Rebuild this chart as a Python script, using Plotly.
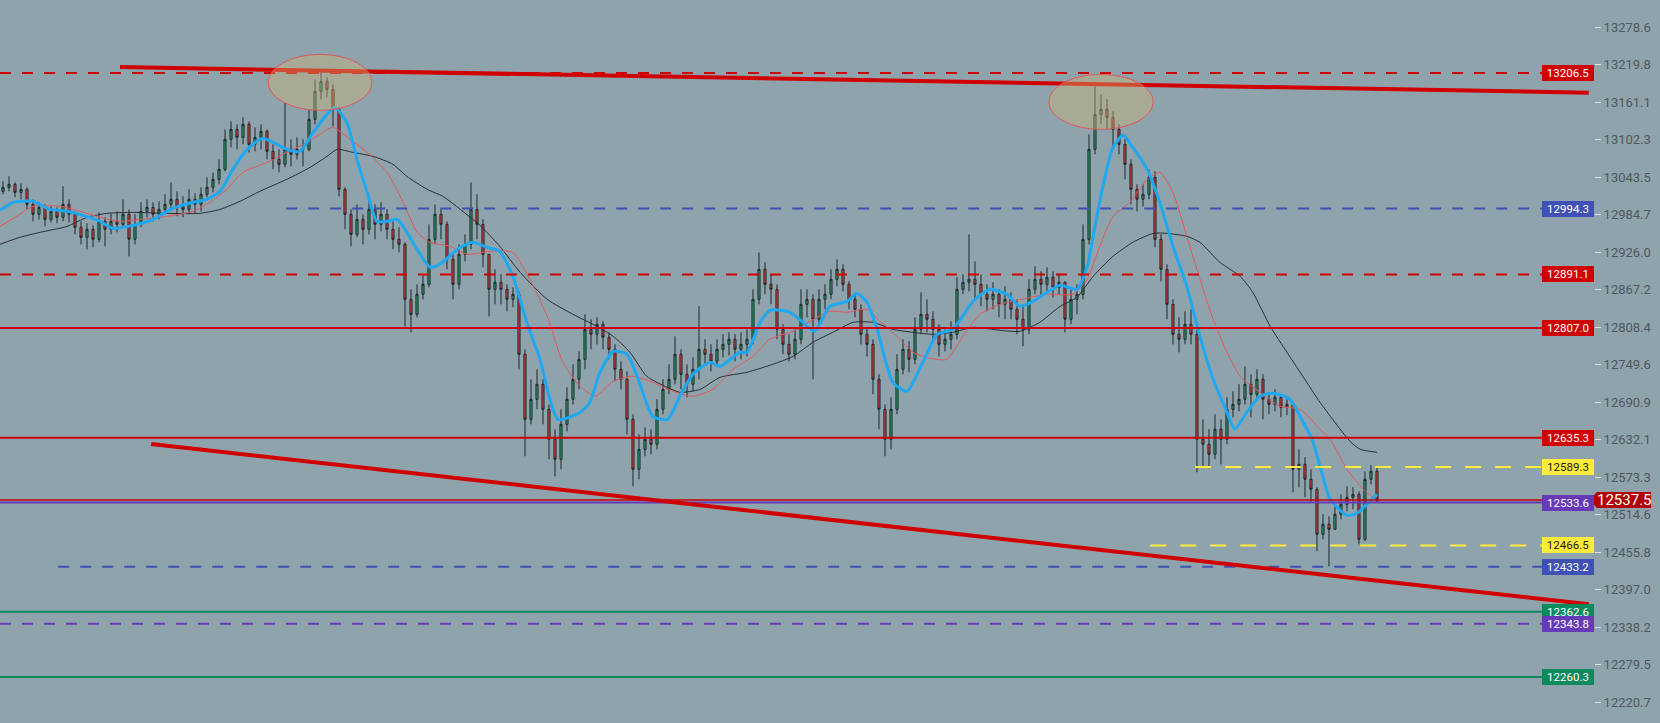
import plotly.graph_objects as go

# ---- candles (one bar per slot, open = previous close) ----
first_open = 13021.2
close = [
    13027.5, 13032.2, 13019.6, 13024.3, 13000.8, 12985.2, 12996.1, 12977.3, 12989.9, 12980.5,
    13000.8, 12985.2, 12964.8, 12949.1, 12961.7, 12946.0, 12974.2, 12961.7, 12974.2, 12969.5,
    12985.2, 12946.0, 12969.5, 12989.9, 12996.1, 12985.2, 12993.0, 13000.8, 13008.7, 12997.7,
    12993.0, 13008.7, 13000.8, 13016.5, 13027.5, 13040.0, 13055.7, 13102.7, 13118.3, 13105.8,
    13126.2, 13094.8, 13105.8, 13115.2, 13083.9, 13071.3, 13063.5, 13087.0, 13079.2, 13087.0,
    13087.0, 13134.0, 13177.9, 13193.6, 13181.0, 13149.7, 13024.3, 12985.2, 12953.8, 12977.3,
    12961.7, 12993.0, 12969.5, 12985.2, 12961.7, 12946.0, 12938.2, 12852.0, 12828.5, 12859.9,
    12875.5, 12946.0, 12985.2, 12969.5, 12914.7, 12875.5, 12922.5, 12938.2, 12993.0, 12969.5,
    12922.5, 12867.7, 12878.7, 12867.7, 12852.0, 12859.9, 12765.9, 12664.0, 12695.4, 12718.9,
    12679.7, 12632.7, 12601.4, 12656.2, 12695.4, 12726.7, 12758.0, 12805.0, 12797.2, 12812.9,
    12792.5, 12773.7, 12742.4, 12726.7, 12664.0, 12585.7, 12617.0, 12632.7, 12624.9, 12679.7,
    12711.0, 12726.7, 12765.9, 12734.5, 12718.9, 12742.4, 12773.7, 12765.9, 12754.9, 12773.7,
    12781.5, 12789.4, 12773.7, 12781.5, 12789.4, 12852.0, 12899.0, 12875.5, 12867.7, 12805.0,
    12781.5, 12765.9, 12789.4, 12844.2, 12852.0, 12820.7, 12852.0, 12859.9, 12883.4, 12899.0,
    12875.5, 12852.0, 12836.4, 12797.2, 12781.5, 12726.7, 12679.7, 12632.7, 12679.7, 12742.4,
    12773.7, 12758.0, 12805.0, 12828.5, 12820.7, 12805.0, 12781.5, 12789.4, 12797.2, 12867.7,
    12878.7, 12883.4, 12875.5, 12859.9, 12852.0, 12859.9, 12844.2, 12852.0, 12836.4, 12820.7,
    12805.0, 12867.7, 12883.4, 12875.5, 12886.5, 12870.8, 12878.7, 12820.7, 12852.0, 12859.9,
    12946.0, 13087.0, 13141.8, 13149.7, 13137.1, 13118.3, 13094.8, 13063.5, 13024.3, 13008.7,
    13016.5, 13043.1, 12946.0, 12899.0, 12844.2, 12797.2, 12789.4, 12812.9, 12797.2, 12632.7,
    12624.9, 12609.2, 12648.4, 12632.7, 12679.7, 12687.5, 12695.4, 12718.9, 12703.2, 12726.7,
    12695.4, 12687.5, 12698.5, 12682.8, 12687.5, 12585.7, 12593.5, 12570.0, 12554.4, 12483.9,
    12499.5, 12491.7, 12515.2, 12530.9, 12541.8, 12546.5, 12476.0, 12570.0, 12582.6, 12537.5,
]
high = [
    13036.9, 13044.7, 13035.3, 13033.8, 13027.5, 13008.7, 13004.0, 13000.8, 12997.7, 12996.1,
    13029.1, 13008.7, 12989.9, 12974.2, 12971.1, 12967.9, 12988.3, 12980.5, 12986.7, 12989.9,
    13008.7, 12993.0, 12985.2, 13004.0, 13008.7, 13004.0, 13005.6, 13016.5, 13035.3, 13021.2,
    13013.4, 13024.3, 13018.1, 13027.5, 13043.1, 13050.9, 13071.3, 13118.3, 13130.9, 13126.2,
    13137.1, 13130.9, 13121.5, 13126.2, 13118.3, 13094.8, 13087.0, 13160.6, 13102.7, 13105.8,
    13102.7, 13149.7, 13196.7, 13207.6, 13199.8, 13188.8, 13152.8, 13027.5, 12993.0, 13000.8,
    12985.2, 13013.4, 13000.8, 13004.0, 12993.0, 12974.2, 12964.8, 12941.3, 12867.7, 12875.5,
    12889.6, 12969.5, 13000.8, 12993.0, 12974.2, 12922.5, 12938.2, 12953.8, 13035.3, 13016.5,
    12977.3, 12922.5, 12899.0, 12891.2, 12875.5, 12870.8, 12864.5, 12773.7, 12726.7, 12742.4,
    12726.7, 12687.5, 12648.4, 12679.7, 12714.2, 12750.2, 12770.6, 12828.5, 12820.7, 12823.8,
    12817.5, 12800.3, 12781.5, 12754.9, 12739.2, 12671.9, 12640.5, 12651.5, 12648.4, 12695.4,
    12726.7, 12750.2, 12794.1, 12773.7, 12750.2, 12761.2, 12841.1, 12789.4, 12781.5, 12789.4,
    12797.2, 12800.3, 12797.2, 12800.3, 12805.0, 12867.7, 12925.6, 12910.0, 12891.2, 12875.5,
    12812.9, 12797.2, 12805.0, 12867.7, 12867.7, 12859.9, 12867.7, 12875.5, 12899.0, 12914.7,
    12906.9, 12880.2, 12859.9, 12844.2, 12808.2, 12789.4, 12734.5, 12687.5, 12698.5, 12765.9,
    12789.4, 12786.2, 12823.8, 12863.0, 12852.0, 12833.2, 12812.9, 12805.0, 12817.5, 12886.5,
    12891.2, 12953.8, 12911.5, 12891.2, 12875.5, 12878.7, 12867.7, 12872.4, 12863.0, 12852.0,
    12844.2, 12883.4, 12903.7, 12895.9, 12902.2, 12895.9, 12892.8, 12880.2, 12867.7, 12875.5,
    12969.5, 13110.5, 13185.7, 13173.2, 13165.3, 13146.5, 13126.2, 13102.7, 13071.3, 13032.2,
    13032.2, 13055.7, 13052.5, 12953.8, 12906.9, 12852.0, 12823.8, 12833.2, 12836.4, 12805.0,
    12664.0, 12648.4, 12671.9, 12664.0, 12698.5, 12707.9, 12718.9, 12747.0, 12734.5, 12742.4,
    12734.5, 12706.3, 12711.0, 12703.2, 12700.1, 12692.2, 12617.0, 12604.5, 12585.7, 12557.5,
    12515.2, 12512.1, 12530.9, 12546.5, 12559.1, 12557.5, 12551.2, 12582.6, 12592.0, 12588.8,
]
low = [
    13016.5, 13021.2, 13011.8, 13008.7, 12993.0, 12974.2, 12977.3, 12966.4, 12972.6, 12971.1,
    12974.2, 12972.6, 12953.8, 12938.2, 12930.4, 12933.5, 12941.3, 12935.1, 12953.8, 12957.0,
    12964.8, 12919.4, 12938.2, 12964.8, 12980.5, 12974.2, 12977.3, 12985.2, 12993.0, 12982.0,
    12980.5, 12985.2, 12986.7, 12989.9, 13011.8, 13019.6, 13032.2, 13052.5, 13090.1, 13087.0,
    13094.8, 13082.3, 13083.9, 13087.0, 13071.3, 13055.7, 13051.0, 13058.8, 13060.4, 13071.3,
    13060.4, 13083.9, 13126.2, 13165.3, 13168.5, 13123.0, 13013.4, 12961.7, 12935.1, 12949.1,
    12938.2, 12953.8, 12946.0, 12958.5, 12946.0, 12930.4, 12925.6, 12809.7, 12800.3, 12823.8,
    12852.0, 12870.8, 12938.2, 12946.0, 12899.0, 12852.0, 12867.7, 12911.5, 12930.4, 12946.0,
    12902.2, 12825.4, 12844.2, 12844.2, 12833.2, 12839.5, 12742.4, 12606.1, 12656.2, 12679.7,
    12656.2, 12601.4, 12574.7, 12585.7, 12645.2, 12687.5, 12711.0, 12742.4, 12773.7, 12781.5,
    12773.7, 12758.0, 12723.6, 12711.0, 12640.5, 12559.1, 12570.0, 12606.1, 12609.2, 12617.0,
    12671.9, 12703.2, 12718.9, 12711.0, 12698.5, 12707.9, 12726.7, 12750.2, 12739.2, 12750.2,
    12761.2, 12764.3, 12754.9, 12758.0, 12762.7, 12781.5, 12844.2, 12859.9, 12844.2, 12789.4,
    12765.9, 12754.9, 12758.0, 12781.5, 12823.8, 12726.7, 12805.0, 12836.4, 12852.0, 12872.4,
    12864.5, 12836.4, 12823.8, 12781.5, 12762.7, 12703.2, 12648.4, 12606.1, 12617.0, 12671.9,
    12734.5, 12737.7, 12750.2, 12797.2, 12800.3, 12789.4, 12762.7, 12770.6, 12773.7, 12789.4,
    12859.9, 12864.5, 12852.0, 12841.1, 12833.2, 12836.4, 12823.8, 12820.7, 12820.7, 12797.2,
    12778.4, 12797.2, 12859.9, 12856.7, 12864.5, 12855.1, 12859.9, 12800.3, 12812.9, 12828.5,
    12852.0, 12938.2, 13079.2, 13126.2, 13118.3, 13087.0, 13079.2, 13040.0, 13000.8, 12989.9,
    12997.7, 13008.7, 12933.5, 12880.2, 12820.7, 12781.5, 12769.0, 12781.5, 12781.5, 12581.0,
    12588.8, 12590.4, 12601.4, 12593.5, 12624.9, 12667.2, 12676.6, 12687.5, 12667.2, 12695.4,
    12664.0, 12671.9, 12676.6, 12667.2, 12670.3, 12549.7, 12557.5, 12541.8, 12534.0, 12457.2,
    12476.0, 12433.8, 12491.7, 12507.4, 12519.9, 12523.0, 12468.2, 12472.9, 12562.2, 12534.0,
]

# ---- moving averages (bar index, price) ----
ma_fast_x = [-0.5, 1.7, 5.0, 6.7, 7.8, 10.7, 12.8, 16.2, 18.3, 21.7, 25.0, 28.3, 31.7, 34.0,
             36.2, 38.3, 40.7, 43.2, 45.7, 47.3, 49.5, 51.7, 54.0, 55.3, 57.3, 59.0, 60.7, 62.3,
             64.0, 65.7, 66.7, 69.0, 71.2, 72.8, 76.2, 78.3, 80.7, 82.8, 85.0, 87.3, 89.5, 92.5,
             96.2, 97.8, 99.5, 101.7, 104.0, 105.7, 108.3, 110.8, 112.8, 115.0, 117.8, 119.5,
             122.8, 124.0, 126.2, 127.8, 131.2, 133.3, 135.3, 137.8, 140.7, 142.3, 144.0, 145.7,
             148.3, 150.7, 153.3, 155.7, 158.3, 161.7, 164.5, 167.3, 169.5, 171.7, 174.0, 176.2,
             179.0, 180.7, 182.0, 183.3, 185.0, 186.7, 188.3, 190.7, 192.8, 195.0, 197.3, 199.5,
             201.7, 204.0, 205.3, 207.3, 209.5, 211.7, 214.5, 216.7, 218.2, 219.5, 221.2, 224.0,
             225.7, 227.3, 229.0]
ma_fast_y = [12991.4, 13004.0, 13005.6, 12997.7, 12993.0, 12989.9, 12985.2, 12974.2, 12963.2,
             12967.9, 12977.3, 12994.6, 13004.0, 13008.7, 13021.2, 13055.7, 13087.0, 13104.2,
             13094.8, 13087.0, 13083.9, 13113.6, 13141.8, 13152.8, 13129.3, 13071.3, 13019.6,
             12974.2, 12974.2, 12977.3, 12966.4, 12930.4, 12902.2, 12906.9, 12933.5, 12941.3,
             12933.5, 12927.2, 12888.0, 12816.0, 12758.0, 12664.0, 12675.0, 12690.7, 12737.7,
             12770.6, 12765.9, 12731.4, 12668.7, 12664.0, 12700.1, 12734.5, 12753.3, 12747.0,
             12769.0, 12769.0, 12816.0, 12834.8, 12831.7, 12816.0, 12801.9, 12841.1, 12848.9,
             12861.4, 12847.3, 12805.0, 12722.0, 12707.9, 12753.3, 12797.2, 12805.0, 12848.9,
             12867.7, 12859.9, 12841.1, 12848.9, 12863.0, 12874.0, 12867.7, 12903.7, 12966.4,
             13029.0, 13090.1, 13108.9, 13090.1, 13055.7, 13004.0, 12935.1, 12872.4, 12794.1,
             12726.7, 12675.0, 12648.4, 12675.0, 12700.1, 12704.8, 12695.4, 12659.3, 12632.7,
             12590.4, 12538.7, 12513.6, 12516.8, 12530.9, 12546.5]

ma_mid_x = [-0.5, 2.3, 5.0, 9.5, 12.8, 16.2, 19.5, 22.8, 27.3, 31.7, 34.5, 37.3, 40.0, 44.0,
            47.3, 50.7, 52.8, 55.0, 57.8, 60.7, 64.0, 66.7, 69.0, 71.2, 74.5, 77.3, 81.2, 85.0,
            87.8, 90.7, 93.3, 96.2, 98.7, 101.7, 105.0, 108.3, 111.7, 115.0, 118.3, 121.7,
            125.0, 127.8, 131.7, 134.5, 137.8, 140.7, 144.0, 146.2, 149.0, 151.7, 154.5, 157.3,
            160.0, 162.8, 166.2, 168.3, 174.0, 178.3, 180.7, 182.8, 185.0, 187.8, 190.7, 192.8,
            195.0, 197.3, 199.5, 201.7, 204.0, 206.2, 209.5, 212.8, 216.2, 219.5, 221.2, 224.0,
            226.7, 228.7]
ma_mid_y = [12966.4, 12982.0, 12997.7, 12997.7, 12989.9, 12980.5, 12974.2, 12977.3, 12982.0,
            12989.9, 13004.0, 13024.3, 13051.0, 13066.6, 13082.3, 13098.0, 13110.5, 13121.5,
            13102.7, 13082.3, 13051.0, 13004.0, 12957.0, 12941.3, 12935.1, 12922.5, 12927.2,
            12925.6, 12883.4, 12825.4, 12753.3, 12715.7, 12700.1, 12723.6, 12731.4, 12722.0,
            12707.9, 12700.1, 12711.0, 12742.4, 12762.7, 12789.4, 12801.9, 12817.5, 12833.2,
            12831.7, 12836.4, 12817.5, 12794.1, 12769.0, 12759.6, 12758.0, 12794.1, 12828.5,
            12844.2, 12848.9, 12859.9, 12859.9, 12883.4, 12935.1, 12982.0, 13004.0, 13040.0,
            13051.0, 13019.6, 12950.7, 12883.4, 12820.7, 12769.0, 12731.4, 12706.3, 12684.4,
            12679.7, 12648.4, 12632.7, 12585.7, 12554.4, 12538.7]

ma_slow_x = [-0.5, 2.8, 6.2, 10.7, 14.0, 17.3, 21.7, 27.3, 32.8, 36.2, 39.5, 42.8, 47.3, 51.2,
             54.0, 55.7, 58.3, 61.7, 65.0, 67.3, 70.7, 73.3, 76.2, 79.5, 82.8, 86.2, 90.7, 95.0,
             99.0, 101.7, 104.5, 107.3, 110.7, 112.8, 116.2, 119.5, 124.0, 128.3, 131.7, 135.0,
             138.3, 141.7, 145.0, 148.3, 151.7, 155.0, 158.3, 161.7, 166.2, 169.5, 172.8, 176.2,
             179.0, 181.7, 185.0, 188.3, 191.7, 194.0, 197.3, 199.5, 202.8, 206.2, 208.3, 211.2,
             214.0, 217.3, 219.5, 224.5, 226.2, 229.0]
ma_slow_y = [12938.2, 12949.1, 12957.0, 12966.4, 12980.5, 12986.7, 12988.3, 12986.7, 12986.7,
             12993.0, 13005.6, 13021.2, 13040.0, 13058.8, 13076.0, 13087.0, 13082.3, 13076.0,
             13063.5, 13044.7, 13024.3, 13013.4, 12993.0, 12967.9, 12935.1, 12894.3, 12852.0,
             12828.5, 12809.7, 12794.1, 12769.0, 12731.4, 12714.2, 12706.3, 12711.0, 12729.8,
             12737.7, 12750.2, 12762.7, 12784.7, 12800.3, 12816.0, 12816.0, 12805.0, 12800.3,
             12797.2, 12800.3, 12808.2, 12803.5, 12801.9, 12816.0, 12841.1, 12855.1, 12888.1,
             12919.4, 12941.3, 12955.4, 12955.4, 12950.7, 12941.3, 12910.0, 12888.1, 12863.0,
             12809.7, 12769.0, 12722.0, 12690.7, 12629.6, 12617.0, 12612.3]

# ---- horizontal levels (price, first bar) ----
level_price = [13206.5, 12994.3, 12891.1, 12807.0, 12635.3, 12589.3,
               12533.6, 12466.5, 12433.2, 12362.6, 12343.8, 12260.3]
level_from = [-0.5, 47.2, -0.5, -0.5, -0.5, 198.7, -0.5, 191.2, 9.2, -0.5, -0.5, -0.5]
level_kind = ["red_dash", "blue_dash", "red_dash", "red", "red", "yellow_dash",
              "purple", "yellow_dash", "blue_dash", "green", "purple_dash", "green"]
level_to = 256.5
last_price = 12537.5

# ---- trend lines and the two tops ----
trend_top_x = [19.5, 264.3]
trend_top_y = [13215.9, 13175.8]
trend_low_x = [24.7, 264.3]
trend_low_y = [12625.3, 12374.2]
top_x = [(44.2, 61.5), (174.3, 191.7)]
top_y = [(13148.1, 13235.8), (13118.3, 13204.5)]

y_ticks = ["13278.6", "13219.8", "13161.1", "13102.3", "13043.5", "12984.7", "12926.0",
           "12867.2", "12808.4", "12749.6", "12690.9", "12632.1", "12573.3", "12514.6",
           "12455.8", "12397.0", "12338.2", "12279.5", "12220.7"]

Y_LO, Y_HI = 12188.2, 13321.0
X_LO, X_HI = -0.5, 265.17
BG = "#8fa3ac"

STYLE = {
    "red_dash":    ("#d00000", "11px,11px", "white"),
    "red":         ("#d00000", "solid", "white"),
    "blue_dash":   ("#3f51b5", "11px,11px", "white"),
    "yellow_dash": ("#ffeb3b", "16px,14px", "#1b1b1b"),
    "purple":      ("#673ab7", "solid", "white"),
    "purple_dash": ("#673ab7", "11px,11px", "white"),
    "green":       ("#0b8a5e", "solid", "white"),
}

fig = go.Figure()

opens = [first_open] + close[:-1]
fig.add_trace(go.Candlestick(
    x=list(range(len(close))), open=opens, high=high, low=low, close=close,
    increasing=dict(line=dict(color="#1e272c", width=1), fillcolor="#27a06a"),
    decreasing=dict(line=dict(color="#1e272c", width=1), fillcolor="#e23b36"),
    whiskerwidth=0, showlegend=False, hoverinfo="skip",
))

fig.add_trace(go.Scatter(x=ma_slow_x, y=ma_slow_y, mode="lines",
                         line=dict(color="#2a2f33", width=1, shape="spline", smoothing=0.6),
                         showlegend=False, hoverinfo="skip"))
fig.add_trace(go.Scatter(x=ma_mid_x, y=ma_mid_y, mode="lines",
                         line=dict(color="#e4575a", width=1, shape="spline", smoothing=0.6),
                         showlegend=False, hoverinfo="skip"))
fig.add_trace(go.Scatter(x=ma_fast_x, y=ma_fast_y, mode="lines",
                         line=dict(color="#1ea8f2", width=3, shape="spline", smoothing=0.6),
                         showlegend=False, hoverinfo="skip"))

annotations = []
for p, x0, kind in zip(level_price, level_from, level_kind):
    color, dash, txt = STYLE[kind]
    fig.add_trace(go.Scatter(x=[x0, level_to], y=[p, p], mode="lines",
                             line=dict(color=color, width=2, dash=dash),
                             showlegend=False, hoverinfo="skip"))
    annotations.append(dict(
        x=1, xref="paper", xanchor="right", y=p, yref="y", yanchor="middle",
        text=f"{p:.1f}", showarrow=False, bgcolor=color, bordercolor=color,
        borderwidth=1, borderpad=0, width=50,
        font=dict(family="Roboto", size=11.5, color=txt),
    ))

# current price line
fig.add_trace(go.Scatter(x=[X_LO, X_HI], y=[last_price, last_price], mode="lines",
                         line=dict(color="#c80000", width=1.5),
                         showlegend=False, hoverinfo="skip"))

# trend lines
for tx, ty in ((trend_top_x, trend_top_y), (trend_low_x, trend_low_y)):
    fig.add_trace(go.Scatter(x=tx, y=ty, mode="lines",
                             line=dict(color="#d00000", width=4),
                             showlegend=False, hoverinfo="skip"))

shapes = []
for (x0, x1), (y0, y1) in zip(top_x, top_y):
    shapes.append(dict(type="circle", xref="x", yref="y", x0=x0, x1=x1, y0=y0, y1=y1,
                       fillcolor="rgba(205,180,120,0.42)",
                       line=dict(color="#e0575a", width=1), layer="above"))

# last price tag on the axis
yp = (last_price - Y_LO) / (Y_HI - Y_LO)
h = 8 / 723
shapes.append(dict(type="path", xref="paper", yref="paper",
                   path=f"M 0.9969,{yp} L 1.0019,{yp + h} L 1.0358,{yp + h} "
                        f"L 1.0358,{yp - h} L 1.0019,{yp - h} Z",
                   fillcolor="#b30000", line=dict(width=0), layer="above"))
annotations.append(dict(x=1.0189, xref="paper", xanchor="center", y=last_price, yref="y",
                        yanchor="middle", text=f"{last_price:.1f}", showarrow=False,
                        font=dict(family="Roboto", size=15, color="white")))

fig.update_layout(
    width=1660, height=723,
    margin=dict(l=0, r=66, t=0, b=0),
    paper_bgcolor=BG, plot_bgcolor=BG,
    boxgap=0.5,
    shapes=shapes, annotations=annotations,
    xaxis=dict(range=[X_LO, X_HI], visible=False, rangeslider=dict(visible=False),
               showgrid=False, zeroline=False),
    yaxis=dict(range=[Y_LO, Y_HI], side="right", showgrid=False, zeroline=False,
               tickvals=[float(t) for t in y_ticks], ticktext=y_ticks,
               ticks="outside", ticklen=6, tickwidth=1, tickcolor="#dde4e7",
               tickfont=dict(family="Roboto", size=13, color="#4f585d")),
    hovermode=False,
)

fig.write_html("out.html", config={"displayModeBar": False},
               post_script=f"document.body.style.margin='0';"
                           f"document.body.style.background='{BG}';")
